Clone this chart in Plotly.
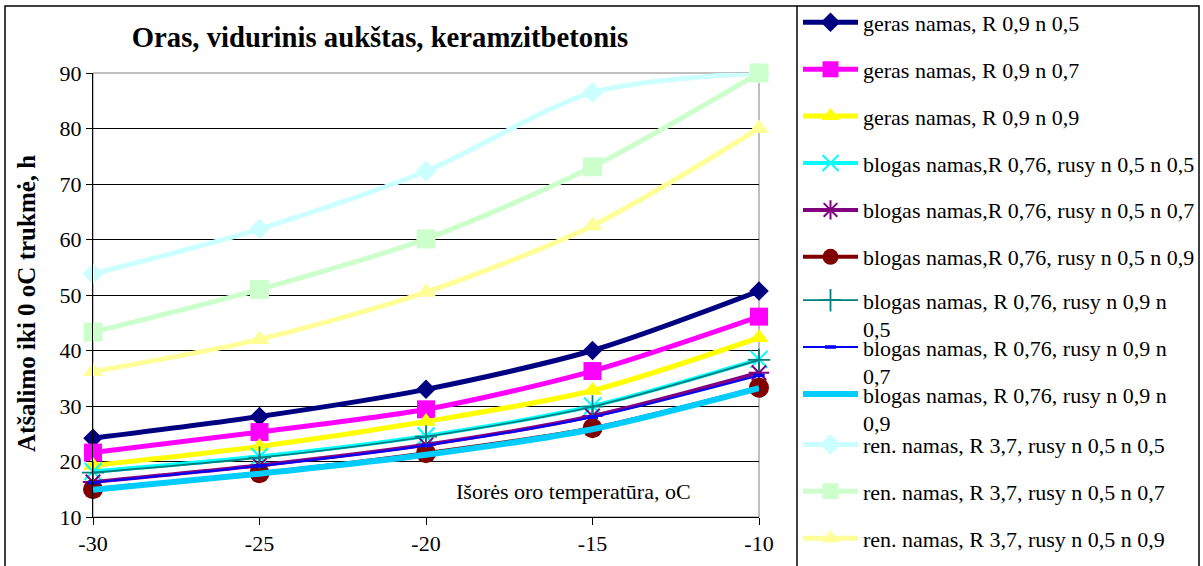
import plotly.graph_objects as go

# ---------------- data ----------------
temps = [-30, -25, -20, -15, -10]
temp_labels = ["-30", "-25", "-20", "-15", "-10"]

geras_05 = [24.2, 28.1, 33.0, 40.0, 50.7]
geras_07 = [21.6, 25.3, 29.4, 36.3, 46.1]
geras_09 = [19.3, 22.7, 27.2, 32.8, 42.3]
blogas_05_05 = [18.2, 20.9, 24.6, 30.0, 38.4]
blogas_05_07 = [16.3, 19.3, 23.0, 28.2, 36.0]
blogas_05_09 = [15.0, 17.9, 21.5, 26.0, 33.3]
blogas_09_05 = [18.0, 20.7, 24.5, 29.9, 38.3]
blogas_09_07 = [16.2, 19.2, 22.9, 28.0, 35.5]
blogas_09_09 = [14.9, 17.8, 21.2, 25.8, 33.2]
ren_05 = [53.8, 61.9, 72.3, 86.5, 90.0]
ren_07 = [43.3, 51.0, 60.1, 73.1, 90.0]
ren_09 = [36.2, 42.0, 50.5, 62.5, 80.0]

names = [
    "geras namas, R 0,9 n 0,5",
    "geras namas, R 0,9 n 0,7",
    "geras namas, R 0,9 n 0,9",
    "blogas namas,R 0,76, rusy n 0,5 n 0,5",
    "blogas namas,R 0,76, rusy n 0,5 n 0,7",
    "blogas namas,R 0,76, rusy n 0,5 n 0,9",
    "blogas namas, R 0,76, rusy n 0,9 n<br>0,5",
    "blogas namas, R 0,76, rusy n 0,9 n<br>0,7",
    "blogas namas, R 0,76, rusy n 0,9 n<br>0,9",
    "ren. namas, R 3,7, rusy n 0,5 n 0,5",
    "ren. namas, R 3,7, rusy n 0,5 n 0,7",
    "ren. namas, R 3,7, rusy n 0,5 n 0,9",
]
series = [geras_05, geras_07, geras_09, blogas_05_05, blogas_05_07, blogas_05_09,
          blogas_09_05, blogas_09_07, blogas_09_09, ren_05, ren_07, ren_09]

title = "Oras, vidurinis aukštas, keramzitbetonis"
y_title = "Atšalimo iki 0 oC trukmė, h"
x_title = "Išorės oro temperatūra, oC"

# ---------------- styles ----------------
styles = [
    dict(color="#000080", width=5, symbol="diamond", size=15),
    dict(color="#FF00FF", width=5, symbol="square", size=18),
    dict(color="#FFFF00", width=5, symbol="triangle-up", size=17),
    dict(color="#00FFFF", width=4, symbol="x-thin-open", size=17, mline=2),
    dict(color="#800080", width=4, symbol="asterisk-open", size=17, mline=2),
    dict(color="#800000", width=4, symbol="circle", size=20),
    dict(color="#008080", width=1.8, symbol="cross-thin-open", size=16, mline=1.8),
    dict(color="#0000FF", width=2, symbol="line-ew-open", size=8, mline=3.5),
    dict(color="#00CCFF", width=6, symbol=None, size=0),
    dict(color="#CCFFFF", width=5, symbol="diamond", size=16),
    dict(color="#CCFFCC", width=5, symbol="square", size=19),
    dict(color="#FFFF99", width=5, symbol="triangle-up", size=18),
]

W, H = 1203, 566
L, R, T, B = 93, 759, 73, 517
FONT = "Liberation Serif"


def px_x(px):
    return (px - L) / (R - L)


def px_y(py):
    return (B - py) / (B - T)


fig = go.Figure()
legend_layouts = {}
leg_first, leg_step = 22.5, 46.9
for i, (nm, vals, st) in enumerate(zip(names, series, styles)):
    lname = "legend" if i == 0 else f"legend{i + 1}"
    marker = dict(color=st["color"], size=st["size"])
    mode = "lines+markers"
    if st["symbol"] is None:
        mode = "lines"
    else:
        marker["symbol"] = st["symbol"]
        if "mline" in st:
            marker["line"] = dict(color=st["color"], width=st["mline"])
    fig.add_trace(go.Scatter(
        x=temps, y=vals, name=nm, mode=mode,
        line=dict(color=st["color"], width=st["width"], shape="spline", smoothing=0.8),
        marker=marker, cliponaxis=False, legend=lname,
    ))
    cy = leg_first + leg_step * i
    two = "<br>" in nm
    legend_layouts[lname] = dict(
        x=px_x(798), xanchor="left",
        y=px_y(cy + (11 if two else 0)), yanchor="middle",
        bgcolor="rgba(0,0,0,0)", borderwidth=0,
        font=dict(family=FONT, size=22, color="black"),
        itemwidth=55, valign="top" if two else "middle",
    )

fig.update_layout(
    width=W, height=H,
    margin=dict(l=L, r=W - R, t=T, b=H - B, pad=0, autoexpand=False),
    paper_bgcolor="white", plot_bgcolor="white",
    font=dict(family=FONT, size=22, color="black"),
    title=dict(text=f"<b>{title}</b>", x=380 / W, xref="container", xanchor="center",
               y=1 - 37 / H, yref="container", yanchor="middle",
               font=dict(family=FONT, size=28.7, color="black")),
    xaxis=dict(range=[-30, -10], tickvals=temps, ticktext=temp_labels,
               ticks="outside", ticklen=7,
               tickcolor="black", showline=True, linecolor="black", linewidth=1,
               showgrid=False, zeroline=False,
               tickfont=dict(family=FONT, size=22, color="black")),
    yaxis=dict(range=[10, 90], dtick=10, ticks="outside", ticklen=6,
               tickcolor="black", showline=True, linecolor="black", linewidth=1,
               showgrid=True, gridcolor="black", gridwidth=1, zeroline=False,
               tickfont=dict(family=FONT, size=22, color="black")),
    showlegend=True,
    **legend_layouts,
)

# plot area border (grey), chart border, legend separator
fig.add_shape(type="rect", xref="paper", yref="paper", x0=0, x1=1, y0=0, y1=1,
              line=dict(color="#808080", width=1), layer="below")
fig.add_shape(type="rect", xref="paper", yref="paper",
              x0=px_x(5), x1=px_x(1199), y0=px_y(568), y1=px_y(6),
              line=dict(color="black", width=1.5))
fig.add_shape(type="line", xref="paper", yref="paper",
              x0=px_x(797), x1=px_x(797), y0=px_y(568), y1=px_y(6),
              line=dict(color="black", width=1.5))

fig.add_annotation(text=f"<b>{y_title}</b>", textangle=-90, showarrow=False,
                   xref="paper", yref="paper", x=px_x(26), y=px_y(304),
                   xanchor="center", yanchor="middle",
                   font=dict(family=FONT, size=25, color="black"))
fig.add_annotation(text=x_title, showarrow=False,
                   xref="paper", yref="paper", x=px_x(573), y=px_y(491),
                   xanchor="center", yanchor="middle",
                   font=dict(family=FONT, size=22, color="black"))

fig.write_html("out.html", config={"displayModeBar": False},
               post_script="document.body.style.margin='0';")
